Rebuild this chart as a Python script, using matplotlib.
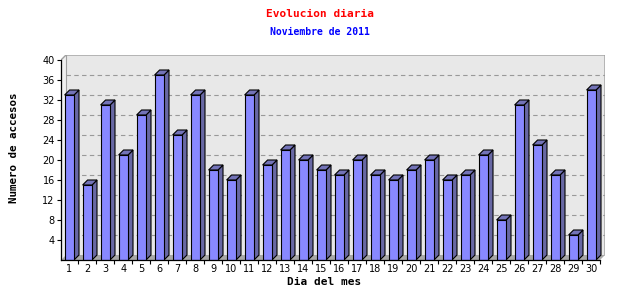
import matplotlib
matplotlib.use("Agg")
import matplotlib.pyplot as plt
from matplotlib.patches import Polygon, Rectangle

# daily visits, November 2011
days = list(range(1, 31))
visits = [33, 15, 31, 21, 29, 37, 25, 33, 18, 16, 33, 19, 22, 20, 18,
          17, 20, 17, 16, 18, 20, 16, 17, 21, 8, 31, 23, 17, 5, 34]
y_ticks = [4, 8, 12, 16, 20, 24, 28, 32, 36, 40]

title = "Evolucion diaria"
subtitle = "Noviembre de 2011"
xlabel = "Dia del mes"
ylabel = "Numero de accesos"

W, H = 640, 300
# plot box in pixels (left, right, top, bottom)
L, R, T, B = 61, 605, 55, 260
PX_X = 1 / 18.0   # data units per pixel, x
PX_Y = 1 / 5.0    # data units per pixel, y
x0 = 1 + (L - 69.3) * PX_X
x1 = 1 + (R - 69.3) * PX_X
y1 = (B - T) * PX_Y

dx, dy = 5 * PX_X, 5 * PX_Y   # 3d depth
bw = 9.4 * PX_X

front = "#8888ff"
side = "#6868a4"
top = "#7373b8"
wall = "#e8e8e8"
frame_col = "#a0a0a0"
mono = ["DejaVu Sans Mono"]

fig = plt.figure(figsize=(W / 100, H / 100), dpi=100)
ax = fig.add_axes([L / W, 1 - B / H, (R - L) / W, (B - T) / H])
ax.set_xlim(x0, x1)
ax.set_ylim(0, y1)
for s in ax.spines.values():
    s.set_visible(False)
ax.patch.set_visible(False)

# back wall, left wall, floor
ax.add_patch(Rectangle((x0 + dx, dy), x1 - x0 - dx, y1 - dy, fc=wall, ec="none", zorder=0))
ax.add_patch(Polygon([(x0, 0), (x0 + dx, dy), (x0 + dx, y1), (x0, y1 - dy)],
                     closed=True, fc="#f0f0f0", ec="none", zorder=0))
ax.add_patch(Polygon([(x0, 0), (x0 + dx, dy), (x1, dy), (x1 - dx, 0)],
                     closed=True, fc="#a8a8a8", ec="none", zorder=0))
ax.plot([x0, x0 + dx, x1, x1], [y1 - dy, y1, y1, dy], color=frame_col, lw=1, zorder=1)
ax.plot([x0 + dx, x0 + dx], [dy, y1], color=frame_col, lw=0.8, zorder=1)

# dashed gridlines on back wall
for v in y_ticks[:-1]:
    ax.plot([x0 + dx, x1], [v + dy, v + dy], color="#999999", lw=0.8,
            dashes=(4, 3), zorder=1)

# 3d bars
for d, v in zip(days, visits):
    xl, xr = d - bw / 2, d + bw / 2
    ax.add_patch(Polygon([(xr, 0), (xr + dx, dy), (xr + dx, v + dy), (xr, v)],
                         closed=True, fc=side, ec="black", lw=0.8, zorder=3))
    ax.add_patch(Polygon([(xl, v), (xl + dx, v + dy), (xr + dx, v + dy), (xr, v)],
                         closed=True, fc=top, ec="black", lw=0.8, zorder=3))
    ax.add_patch(Rectangle((xl, 0), bw, v, fc=front, ec="black", lw=0.8, zorder=4))

# axes lines
ax.plot([x0, x0], [0, y1 - dy], color="black", lw=0.9, zorder=5, clip_on=False)
ax.plot([x0, days[-1] + 0.5], [0, 0], color="black", lw=0.9, zorder=5, clip_on=False)

ax.set_yticks(y_ticks)
ax.set_yticklabels([str(v) for v in y_ticks], fontsize=7)
ax.tick_params(axis="y", length=3, width=0.8, pad=1.5)
ax.set_xticks(days)
ax.set_xticklabels([str(d) for d in days], fontsize=7)
ax.tick_params(axis="x", length=0, pad=3)
ax.set_xticks([d + 0.5 for d in days], minor=True)
ax.tick_params(axis="x", which="minor", length=3, width=0.8)

fig.text(0.5, 1 - 14 / H, title, color="red", fontsize=8, fontweight="bold",
         family=mono, ha="center", va="center")
fig.text(0.5, 1 - 32 / H, subtitle, color="blue", fontsize=7, fontweight="bold",
         family=mono, ha="center", va="center")
fig.text(14 / W, 1 - 148 / H, ylabel, rotation=90, fontsize=7.8, fontweight="bold",
         family=mono, ha="center", va="center")
fig.text(324 / W, 1 - 282 / H, xlabel, fontsize=8, fontweight="bold",
         family=mono, ha="center", va="center")

fig.savefig("out.png", dpi=100)
